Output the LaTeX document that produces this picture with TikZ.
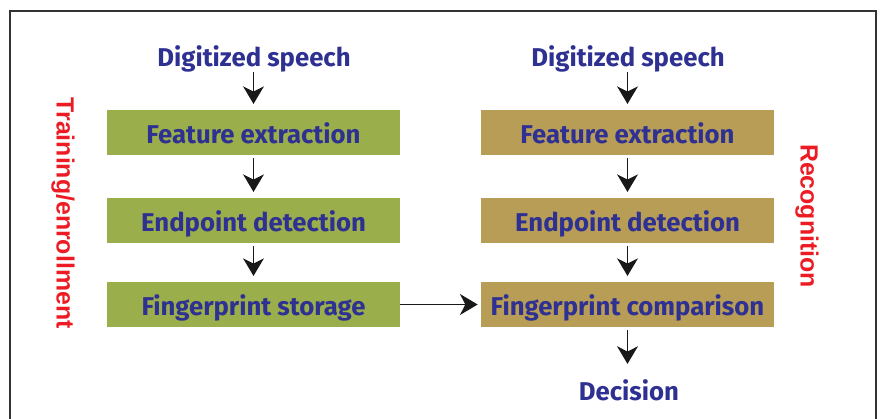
\documentclass[tikz,border=0pt]{standalone}
\usepackage{fontspec}
\setmainfont{Fira Sans}
\newfontfamily\labelfont{Liberation Sans}
\usepackage{tikz}
\usetikzlibrary{arrows.meta}
\definecolor{trainfill}{HTML}{9AAE4B}
\definecolor{recogfill}{HTML}{B89D56}
\definecolor{textblue}{HTML}{2E3092}
\definecolor{sidered}{HTML}{ED1C24}

\begin{document}
\begin{tikzpicture}[x=0.025cm, y=-0.025cm,
    stagebox/.style={minimum width=7.325cm, minimum height=1.1125cm, inner sep=2pt,
      text height=15.6pt, text depth=0pt, text=textblue,
      font=\fontsize{18.3}{21}\selectfont\bfseries},
    flowtext/.style={inner sep=2pt, text height=15.6pt, text depth=0pt, text=textblue,
      font=\fontsize{18.3}{21}\selectfont\bfseries},
    sidelabel/.style={rotate=-90, text=sidered, inner sep=0pt,
      font=\labelfont\fontsize{17.7}{20}\selectfont\bfseries},
    flow/.style={line width=1.3pt, black!90, -{Stealth[length=4.4mm, width=5.2mm, inset=1.3mm]}}]

\clip (0,0) rectangle (880,419);
\fill[white] (0,0) rectangle (880,419);
\draw[line width=1.4pt, black!80] (10,11) rectangle (876,450);

%---------------- left column: training / enrollment -----------------
\node[flowtext] (ds1) at (254,55.5) {Digitized speech};
\node[stagebox, fill=trainfill] (fe1) at (253.5,132.5) {Feature extraction};
\node[stagebox, fill=trainfill] (ed1) at (253.5,220.5) {Endpoint detection};
\node[stagebox, fill=trainfill] (fs) at (253.5,304.5) {Fingerprint storage};
\node[sidelabel] (train) at (63,213) {Training/enrollment};

\draw[flow, shorten <=2pt, shorten >=0.15cm] (ds1.south -| fe1) -- (fe1.north);
\draw[flow, shorten <=2pt, shorten >=0.15cm] (fe1) -- (ed1);
\draw[flow, shorten <=2pt, shorten >=0.15cm] (ed1) -- (fs);

%---------------- right column: recognition -----------------
\node[flowtext] (ds2) at (628,55.5) {Digitized speech};
\node[stagebox, fill=recogfill] (fe2) at (627.5,132.5) {Feature extraction};
\node[stagebox, fill=recogfill] (ed2) at (627.5,220.5) {Endpoint detection};
\node[stagebox, fill=recogfill] (fc) at (627.5,304.5) {Fingerprint comparison};
\node[flowtext] (dec) at (629,390) {Decision};
\node[sidelabel] (recog) at (807,216) {Recognition};

\draw[flow, shorten <=2pt, shorten >=0.15cm] (ds2.south -| fe2) -- (fe2.north);
\draw[flow, shorten <=2pt, shorten >=0.15cm] (fe2) -- (ed2);
\draw[flow, shorten <=2pt, shorten >=0.15cm] (ed2) -- (fc);
\draw[flow, shorten <=2pt, shorten >=0.3cm] (fc.south) -- (dec.north -| fc);

% stored fingerprint goes to the comparison
\draw[flow, shorten >=0.075cm] (fs) -- (fc);

\end{tikzpicture}
\end{document}
